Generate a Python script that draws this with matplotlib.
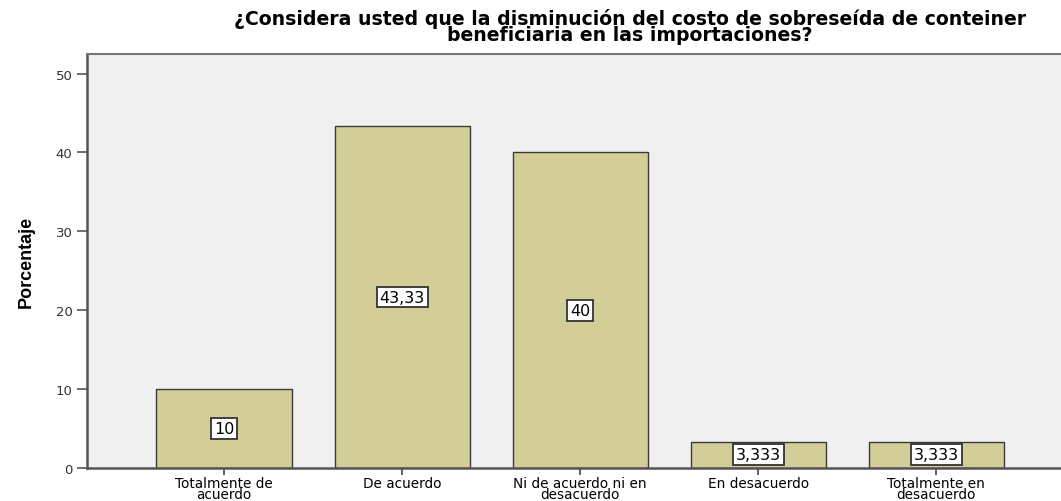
import matplotlib.pyplot as plt

plt.rcParams['font.family'] = ['DejaVu Sans']

# Datos del grafico
categorias = ["Totalmente de\nacuerdo", "De acuerdo", "Ni de acuerdo ni en\ndesacuerdo",
              "En desacuerdo", "Totalmente en\ndesacuerdo"]
porcentajes = [10.0, 43.33, 40.0, 3.333, 3.333]
etiquetas = ["10", "43,33", "40", "3,333", "3,333"]
yticks = [0, 10, 20, 30, 40, 50]

fig = plt.figure(figsize=(10.61, 5.02), dpi=100)
ax = fig.add_axes([0.082, 0.0657, 0.918, 0.825])
ax.set_facecolor("#F0F0F0")

x = list(range(len(categorias)))
ax.bar(x, porcentajes, width=0.76, color="#D3CE98", edgecolor="#3A3A3A", linewidth=1.0, zorder=2)

# Etiquetas de valor en el centro de cada barra
for xi, v, t in zip(x, porcentajes, etiquetas):
    ax.text(xi, v / 2, t, ha="center", va="center", fontsize=11.5, zorder=3,
            bbox=dict(boxstyle="square,pad=0.18", facecolor="white", edgecolor="#333333", linewidth=1.3))

ax.set_xlim(-0.77, 4.70)
ax.set_ylim(0, 52.5)
ax.set_yticks(yticks)
ax.set_xticks(x)
ax.set_xticklabels(categorias, fontsize=9.8, linespacing=0.68)
ax.tick_params(axis="y", direction="out", length=7, width=1.2, color="#555555", labelcolor="#333333", labelsize=9.5)
ax.tick_params(axis="x", direction="out", length=5, width=1.2, color="#444444", pad=1)

for s in ["left", "bottom"]:
    ax.spines[s].set_color("#555555")
    ax.spines[s].set_linewidth(1.8)
ax.spines["right"].set_visible(False)
ax.spines["top"].set_color("#777777")
ax.spines["top"].set_linewidth(1.5)

ax.set_ylabel("Porcentaje", fontsize=13, fontweight="bold", labelpad=15,
              family=["Liberation Sans Narrow", "Liberation Sans"])
fig.suptitle("¿Considera usted que la disminución del costo de sobreseída de conteiner\n"
             "beneficiaria en las importaciones?", fontsize=13.6, fontweight="bold",
             y=0.982, linespacing=0.78, x=0.594)

fig.savefig("out.png", dpi=100)
